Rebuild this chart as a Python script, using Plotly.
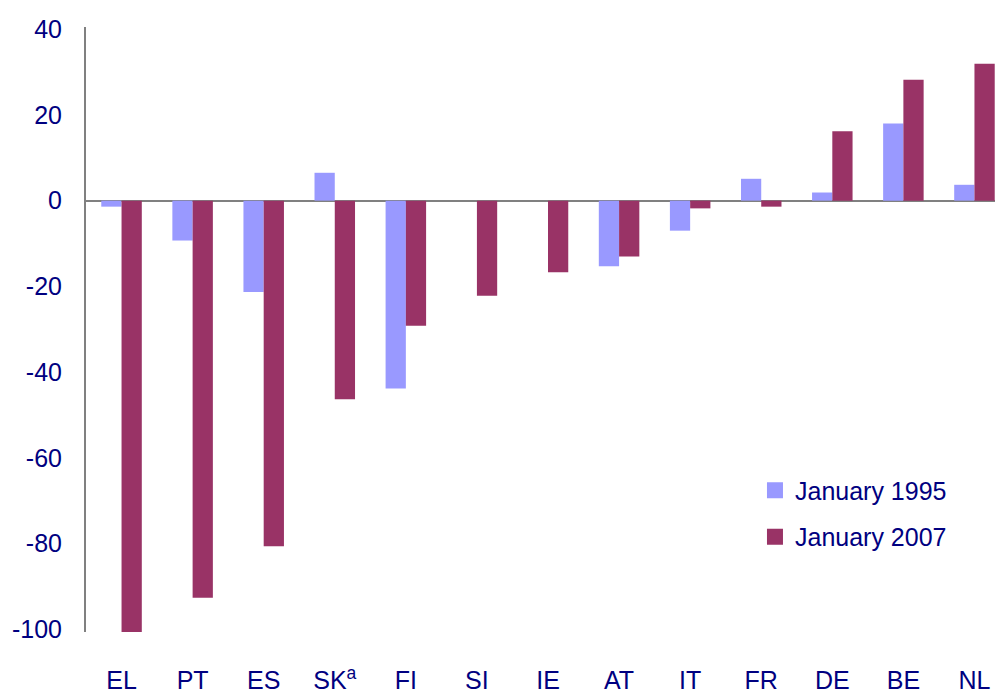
import plotly.graph_objects as go

categories = ["EL", "PT", "ES", "SK<sup>a</sup>", "FI", "SI", "IE", "AT", "IT", "FR", "DE", "BE", "NL"]
jan_1995 = [-1.4, -9.3, -21.3, 6.5, -43.8, 0, 0, -15.3, -7.0, 5.1, 1.9, 18.0, 3.7]
jan_2007 = [-101.0, -92.6, -80.6, -46.3, -29.2, -22.2, -16.7, -13.0, -1.8, -1.4, 16.2, 28.2, 31.9]
y_ticks = [40, 20, 0, -20, -40, -60, -80, -100]
y_tick_text = ["40", "20", "0", "-20", "-40", "-60", "-80", "-100"]
series_names = ["January 1995", "January 2007"]
series_colors = ["#9999FF", "#993366"]

font_family = "Liberation Sans Narrow, Arial Narrow, Liberation Sans, sans-serif"
navy = "#000080"

fig = go.Figure()
for vals, name, col in zip([jan_1995, jan_2007], series_names, series_colors):
    fig.add_trace(go.Bar(x=categories, y=vals, name=name, marker_color=col,
                         marker_line_width=0, showlegend=False))
# legend-only entries with larger square swatches
for i, (name, col) in enumerate(zip(series_names, series_colors)):
    fig.add_trace(go.Scatter(x=[None], y=[None], mode="markers", name=name,
                             legendgroup=f"g{i}",
                             marker=dict(symbol="square", size=22, color=col)))

# page body has an 8px default margin; plot area runs slightly past the window's right edge
fig.update_layout(
    width=1003, height=685,
    margin=dict(l=78, r=1, t=19, b=61),
    paper_bgcolor="white", plot_bgcolor="white",
    barmode="group", bargap=0.43, bargroupgap=0,
    font=dict(family=font_family, color=navy, size=25),
    legend=dict(x=0.724, y=0.272, xanchor="left", yanchor="top",
                bgcolor="rgba(0,0,0,0)", font=dict(size=25, color=navy),
                itemwidth=30, tracegroupgap=11, traceorder="grouped"),
    showlegend=True,
)
fig.update_xaxes(showline=False, showgrid=False, zeroline=False, automargin=False,
                 ticks="outside", ticklen=26, tickcolor="rgba(0,0,0,0)",
                 tickfont=dict(size=25, color=navy, family=font_family))
fig.update_yaxes(range=[-100.6, 40.5], tickvals=y_ticks, ticktext=y_tick_text,
                 showgrid=False, automargin=False,
                 showline=True, linecolor="#808080", linewidth=2,
                 zeroline=True, zerolinecolor="#808080", zerolinewidth=2,
                 ticks="outside", ticklen=17, tickcolor="rgba(0,0,0,0)",
                 tickfont=dict(size=25, color=navy, family=font_family))

fig.write_html("out.html")
